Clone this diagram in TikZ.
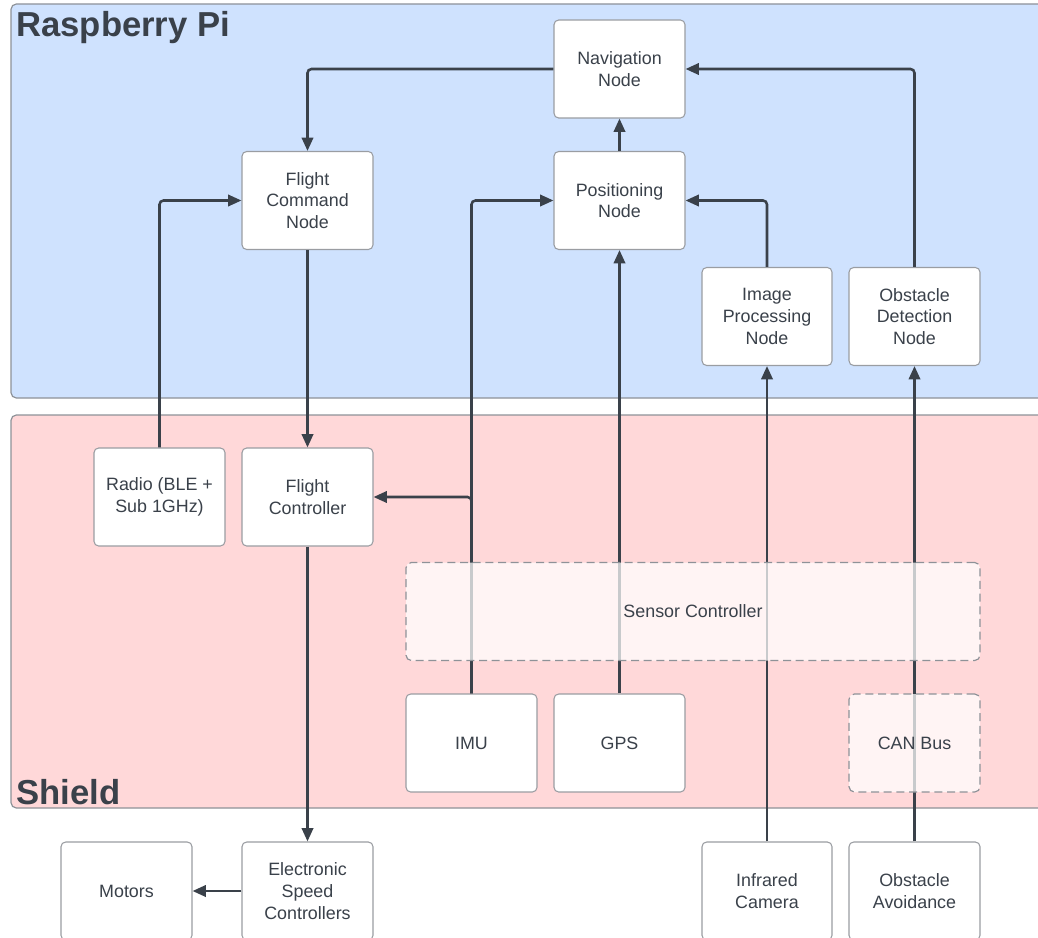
\documentclass[tikz,border=0pt]{standalone}
\usepackage{fontspec}
\setmainfont{Liberation Sans}
\usetikzlibrary{arrows.meta}
\definecolor{ink}{HTML}{3A414A}
\definecolor{rpiblue}{HTML}{CFE2FE}
\definecolor{shieldpink}{HTML}{FFD8D9}
\definecolor{frame}{HTML}{8E9298}
\definecolor{boxline}{HTML}{9A9DA2}
\tikzset{
  region/.style={draw=frame, line width=0.9pt, rounded corners=4pt},
  title/.style={text=ink, font=\bfseries\fontsize{26}{30}\selectfont, inner sep=0pt},
  block/.style={draw=boxline, fill=white, line width=0.8pt, rounded corners=3.5pt,
    minimum width=98.25pt, minimum height=73.5pt, align=center, text=ink,
    font=\fontsize{13.4}{16.3}\selectfont, inner sep=2pt},
  ghost/.style={draw=frame, fill=white, fill opacity=0.72, text opacity=1, dashed,
    dash pattern=on 6pt off 3.5pt, line width=0.9pt, rounded corners=4pt, align=center, text=ink,
    font=\fontsize{13.4}{16.3}\selectfont},
  link/.style={draw=ink, line width=1.9pt, rounded corners=3pt,
    -{Triangle[length=10pt,width=8.5pt]}},
}
\begin{document}
\begin{tikzpicture}[x=0.75pt,y=-0.75pt]
\useasboundingbox (0,0) rectangle (1038,938);
\clip (0,0) rectangle (1038,938);
% regions
\draw[region, fill=rpiblue] (11,4) rectangle (1060,398);
\draw[region, fill=shieldpink] (11,415) rectangle (1060,808);
\node[title, anchor=base west] (rpi) at (16,37) {Raspberry Pi};
\node[title, anchor=base west] (shield) at (16,804) {Shield};
% blocks
\node[block] (nav) at (619.5,69) {Navigation\\Node};
\node[block] (fcn) at (307.5,200.5) {Flight\\Command\\Node};
\node[block] (pos) at (619.5,200.5) {Positioning\\Node};
\node[block, minimum width=97.5pt] (ip) at (767,316.5) {Image\\Processing\\Node};
\node[block] (od) at (914.5,316.5) {Obstacle\\Detection\\Node};
\node[block] (radio) at (159.5,497) {Radio (BLE +\\Sub 1GHz)};
\node[block] (fc) at (307.5,497) {Flight\\Controller};
\node[block] (imu) at (471.5,743) {IMU};
\node[block] (gps) at (619.5,743) {GPS};
\node[block] (mot) at (126.5,891) {Motors};
\node[block] (esc) at (307.5,891) {Electronic\\Speed\\Controllers};
\node[block, minimum width=97.5pt] (ir) at (767,891) {Infrared\\Camera};
\node[block] (oa) at (914.5,891) {Obstacle\\Avoidance};
% connectors
\draw[link] (nav.west) -| (fcn.north);
\draw[link] (pos.north) -- (nav.south);
\draw[link] (od.north) |- (nav.east);
\draw[link] (ip.north) |- (pos.east);
\draw[link] (imu.north) |- (pos.west);
\draw[link] (imu.north) |- (fc.east);
\draw[link] (gps.north) -- (pos.south);
\draw[link] (radio.north) |- (fcn.west);
\draw[link] (fcn.south) -- (fc.north);
\draw[link] (fc.south) -- (esc.north);
\draw[link] (esc.west) -- (mot.east);
\draw[link] (ir.north) -- (ip.south);
\draw[link] (oa.north) -- (od.south);
% translucent dashed blocks on top
\node[ghost, minimum width=430.5pt, minimum height=73.5pt] (sc) at (693,611.5) {Sensor Controller};
\node[ghost, minimum width=98.25pt, minimum height=73.5pt] (can) at (914.5,743) {CAN Bus};
\end{tikzpicture}
\end{document}
